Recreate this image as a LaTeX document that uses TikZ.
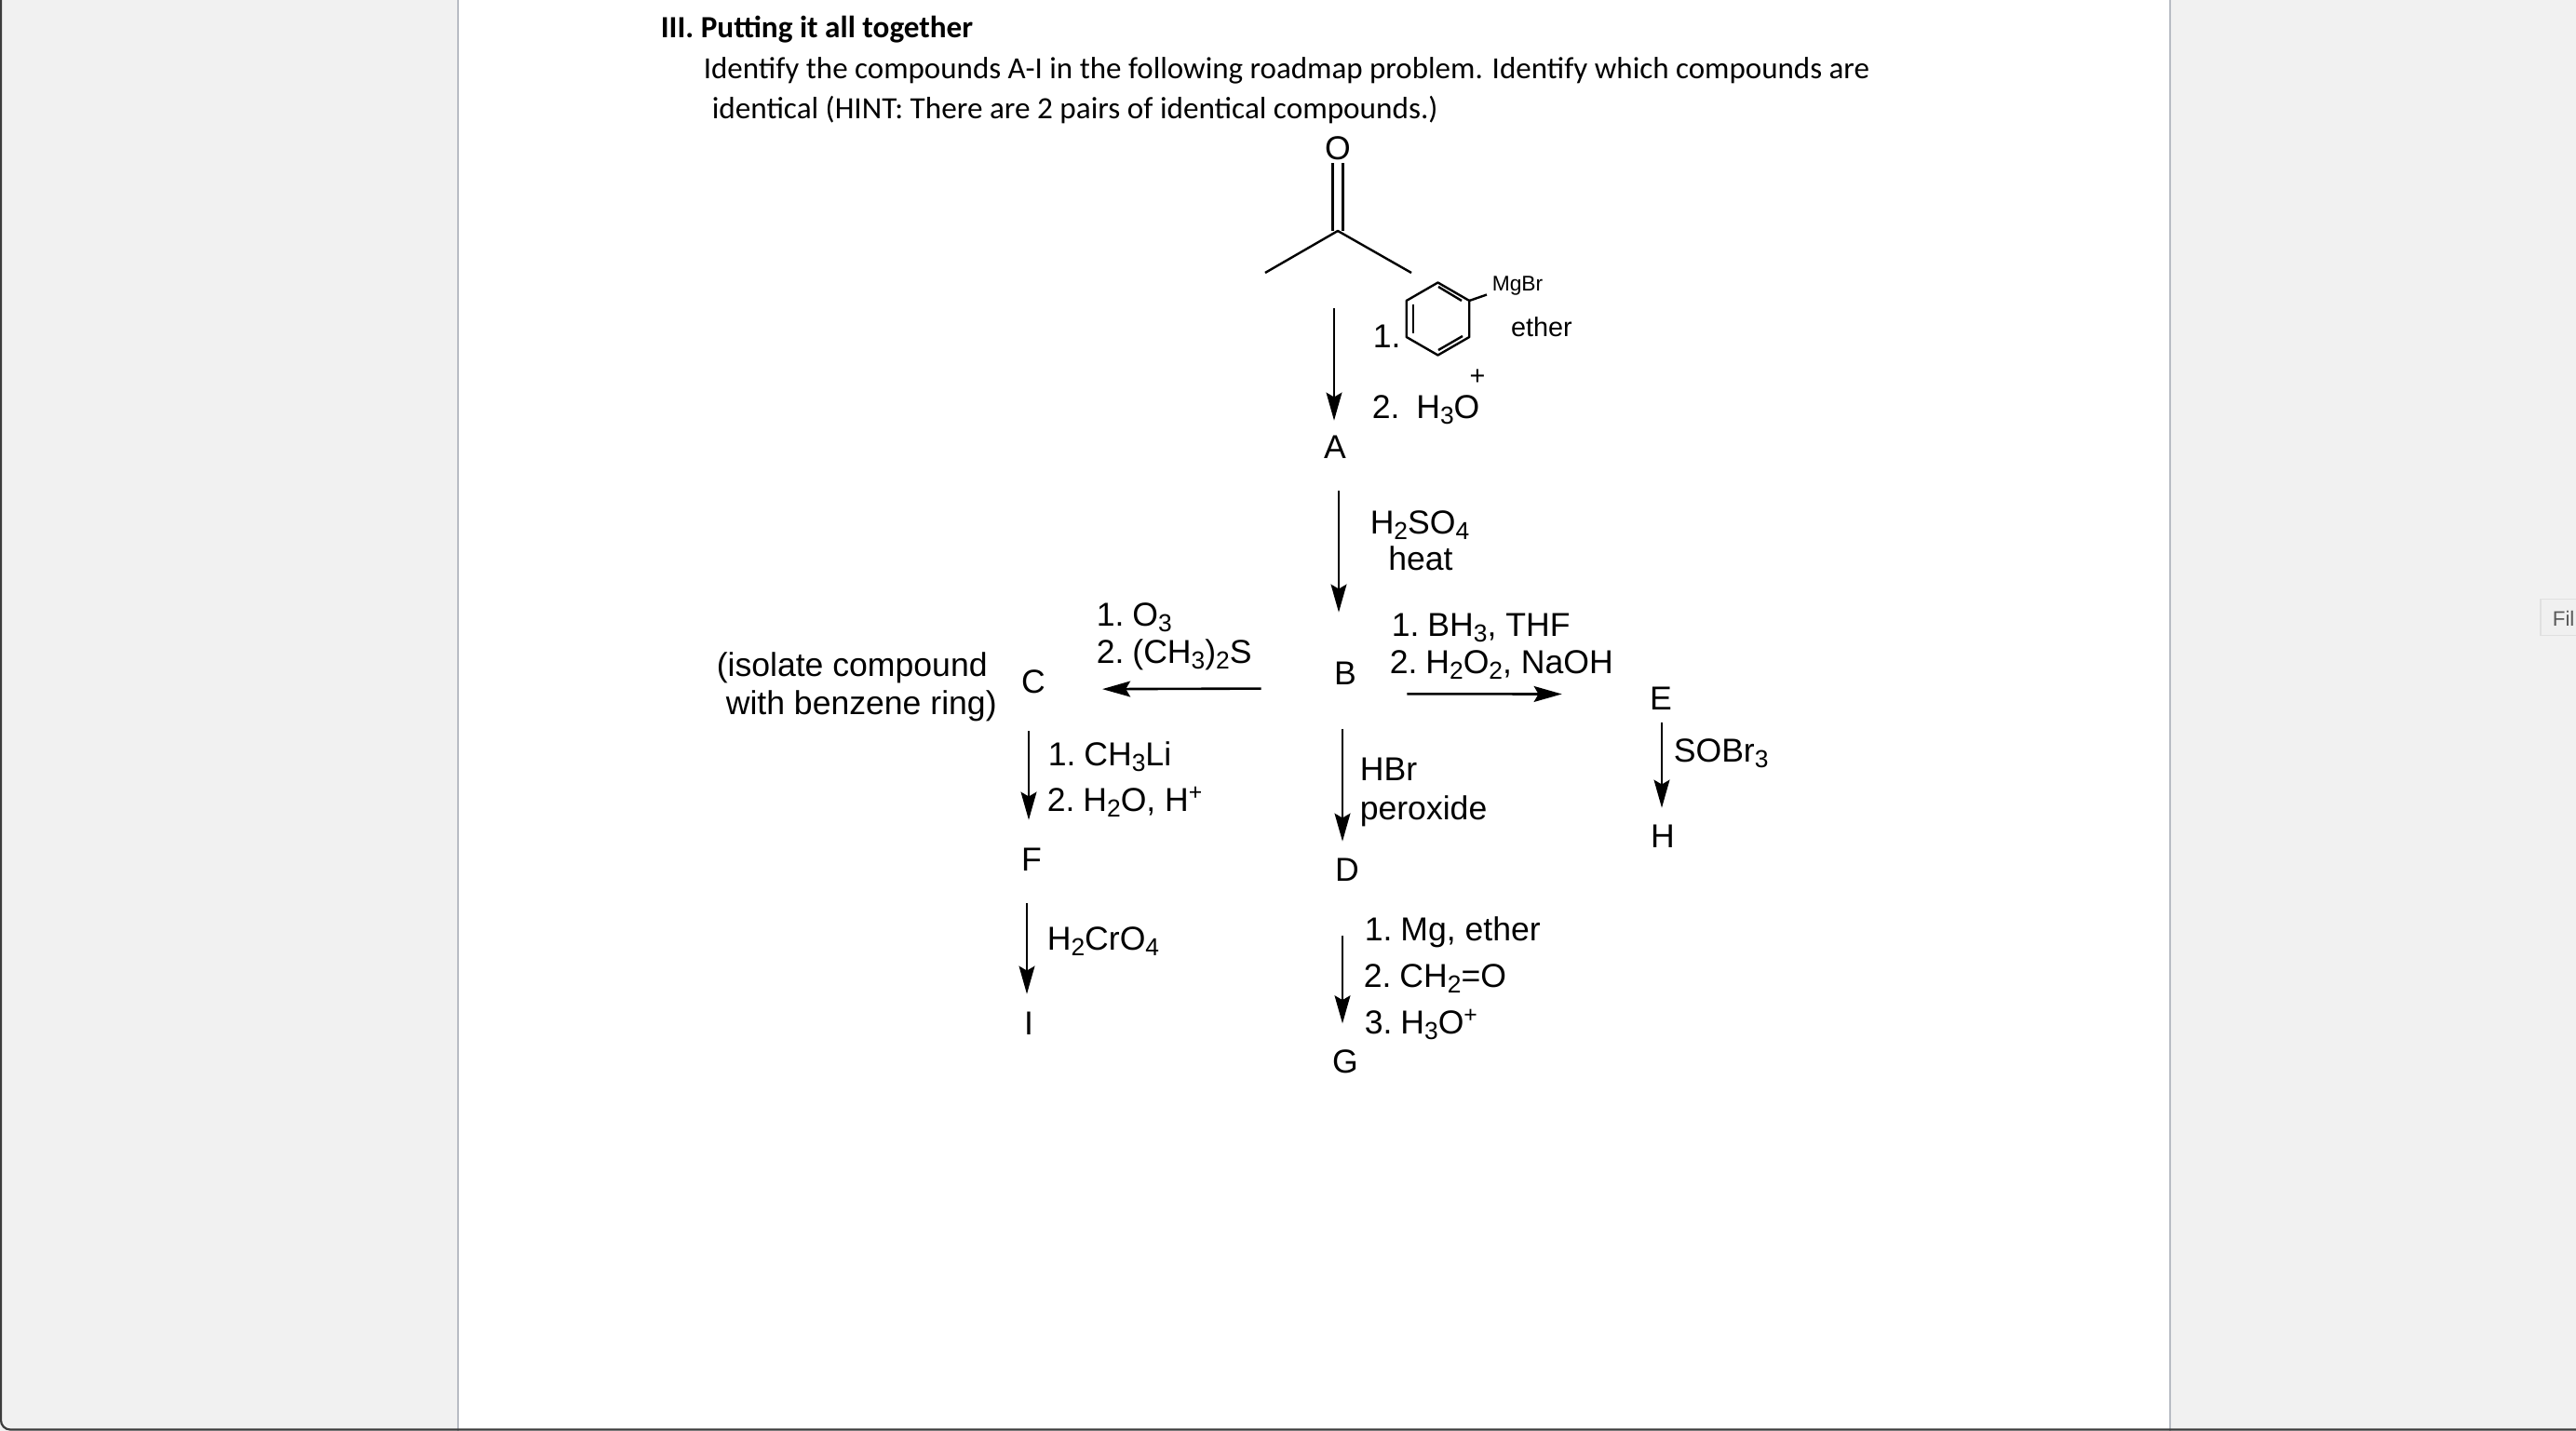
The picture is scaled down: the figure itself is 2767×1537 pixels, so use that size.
\documentclass[tikz,border=0pt]{standalone}
\usepackage{fontspec}
\setmainfont{Liberation Sans}
\newfontfamily\headfont{Carlito}
\usetikzlibrary{arrows.meta,calc}
\definecolor{panel}{HTML}{F1F1F1}
\definecolor{edge}{HTML}{B8BCC4}
\definecolor{frame}{HTML}{3C3C3C}
\newcommand{\chemdn}[1]{\raisebox{-.3ex}{\fontsize{6.6}{7}\selectfont #1}}
\newcommand{\chemup}[1]{\raisebox{.65ex}{\fontsize{6.2}{7}\selectfont #1}}
\newcommand{\rstep}[1]{#1.\hspace{.25em}}
\tikzset{
    chem/.style={font=\fontsize{8.9}{10}\selectfont, inner sep=0pt},
    reagent/.style={chem, anchor=base west},
    cmpd/.style={chem, anchor=base},
    head/.style={font=\headfont\fontsize{8.25}{10}\selectfont, inner sep=0pt, anchor=base west},
    bond/.style={line width=.6pt},
    rxn/.style 2 args={line width=.65pt, shorten <=#1, shorten >=#2,
        -{Stealth[length=7.5pt,width=4.2pt,inset=1.2pt]}},
}
\begin{document}
\begin{tikzpicture}[x=.25pt, y=-.25pt]
    \useasboundingbox (0,0) rectangle (2767,1537);
    \clip (0,0) rectangle (2767,1537);

    % page and side panels
    \fill[panel] (0,0) rectangle (2767,1537);
    \fill[white] (492,0) rectangle (2331,1537);
    \draw[edge, line width=.7pt] (492,0) -- (492,1537);
    \draw[edge, line width=.7pt] (2331,0) -- (2331,1537);
    \draw[frame, line width=.55pt, rounded corners=2.5pt] (1,-10) -- (1,1535.5) -- (2777,1535.5);
    \node[draw=black!12, fill=black!6, minimum height=9.75pt, minimum width=40pt, anchor=west, inner sep=0pt] (filetab) at (2728,663) {};
    \node[font=\fontsize{5.6}{7}\selectfont, text=black!65, anchor=west, inner sep=0pt] (filetext) at (2741,664) {Fil};

    % heading
    \node[head, font=\headfont\bfseries\fontsize{8.3}{10}\selectfont] (title) at (709,41) {III. Putting it all together};
    \node[head] (line1) at (755,85) {Identify the compounds A-I in the following roadmap problem. Identify which compounds are};
    \node[head, font=\headfont\fontsize{8.3}{10}\selectfont] (line2) at (764,128) {identical (HINT: There are 2 pairs of identical compounds.)};

    % ketone
    \node[cmpd] (oxy) at (1437,172) {O};
    \coordinate (ketoC) at (1437,248);
    \coordinate (ketoL) at (1359,293);
    \coordinate (ketoR) at (1516,293);
    \draw[bond] ([xshift=-1.4pt,yshift=-.5pt]oxy.south) -- ([xshift=-1.4pt]ketoC);
    \draw[bond] ([xshift=1.4pt,yshift=-.5pt]oxy.south) -- ([xshift=1.4pt]ketoC);
    \draw[bond, line join=round] (ketoL) -- (ketoC) -- (ketoR);

    % aryl grignard
    \foreach \i/\ang in {1/-90, 2/-30, 3/30, 4/90, 5/150, 6/-150} {
        \coordinate (ring\i) at ($(1544.5,342.5)+(\ang:39)$);
    }
    \draw[bond, line join=round] (ring1) -- (ring2) -- (ring3) -- (ring4) -- (ring5) -- (ring6) -- cycle;
    \draw[bond] (1545,308) -- (1570,323);
    \draw[bond] (1518,327) -- (1518,358);
    \draw[bond] (1545,376) -- (1571,361);
    \node[chem, font=\fontsize{5.7}{7}\selectfont, anchor=base] (mgbr) at (1630,313) {MgBr};
    \draw[bond] (ring2) -- ([xshift=-1.25pt,yshift=-2.25pt]mgbr.west);
    \node[cmpd, font=\fontsize{7.2}{9}\selectfont] (ether) at (1656,362) {ether};
    \node[reagent] (step1) at (1474,374) {1.};
    \node[reagent] (step2) at (1473,450) {2.\hspace{.5em}H\chemdn{3}O};
    \node[chem, font=\fontsize{7.2}{9}\selectfont] (plus) at (1587,405) {+};

    % compounds
    \node[cmpd] (A) at (1434,493) {A};
    \node[cmpd] (B) at (1445,736) {B};
    \node[cmpd] (C) at (1110,745) {C};
    \node[cmpd] (D) at (1447,947) {D};
    \node[cmpd] (E) at (1784,763) {E};
    \node[cmpd] (F) at (1108,936) {F};
    \node[cmpd] (G) at (1445,1153) {G};
    \node[cmpd] (H) at (1786,911) {H};
    \node[cmpd] (I) at (1105,1112) {I};

    % reagents
    \node[chem, anchor=base] (sulf) at (1525,574) {H\chemdn{2}SO\chemdn{4}};
    \node[chem, anchor=base] (heat) at (1526,613) {heat};
    \node[reagent] (ozone) at (1177,673) {\rstep{1}O\chemdn{3}};
    \node[reagent] (dms) at (1177,713) {\rstep{2}(CH\chemdn{3})\chemdn{2}S};
    \node[reagent] (isoa) at (769,727) {(isolate compound};
    \node[reagent] (isob) at (779,768) {with benzene ring)};
    \node[reagent] (bora) at (1494,684) {\rstep{1}BH\chemdn{3}, THF};
    \node[reagent] (perox) at (1492,724) {\rstep{2}H\chemdn{2}O\chemdn{2}, NaOH};
    \node[reagent] (sobr) at (1797,819) {SOBr\chemdn{3}};
    \node[reagent] (meli) at (1125,823) {\rstep{1}CH\chemdn{3}Li};
    \node[reagent] (acid) at (1124,872) {\rstep{2}H\chemdn{2}O, H\chemup{+}};
    \node[reagent] (chrom) at (1124,1021) {H\chemdn{2}CrO\chemdn{4}};
    \node[reagent] (hbr) at (1460,839) {HBr};
    \node[reagent] (roor) at (1460,881) {peroxide};
    \node[reagent] (mg) at (1465,1011) {\rstep{1}Mg, ether};
    \node[reagent] (form) at (1464,1061) {\rstep{2}CH\chemdn{2}=O};
    \node[reagent] (hyd) at (1465,1111) {\rstep{3}H\chemdn{3}O\chemup{+}};

    % arrows
    \draw[rxn={20.75pt}{4pt}] ([xshift=-1pt]ketoC) -- ([xshift=-.25pt]A.north);
    \draw[rxn={8.25pt}{13.25pt}] ([xshift=1pt]A.south) -- ([xshift=-1.75pt]B.north);
    \draw[rxn={19.4pt}{15.1pt}] ([yshift=-3.9pt]B.west) -- ([yshift=-1.9pt]C.east);
    \draw[rxn={13.4pt}{23.4pt}] ([yshift=-5.4pt]B.east) -- ([yshift=1.3pt]E.west);
    \draw[rxn={11.5pt}{4.5pt}] ([xshift=-.75pt]B.south) -- ([xshift=-1.25pt]D.north);
    \draw[rxn={14.25pt}{7pt}] ([xshift=-1.25pt]D.south) -- ([xshift=-.75pt]G.north);
    \draw[rxn={3pt}{4.5pt}] ([xshift=.25pt]E.south) -- ([xshift=-.25pt]H.north);
    \draw[rxn={9.75pt}{7.5pt}] ([xshift=-1.25pt]C.south) -- ([xshift=-.75pt]F.north);
    \draw[rxn={8.25pt}{4.75pt}] ([xshift=-1.25pt]F.south) -- ([xshift=-.5pt]I.north);
\end{tikzpicture}
\end{document}
